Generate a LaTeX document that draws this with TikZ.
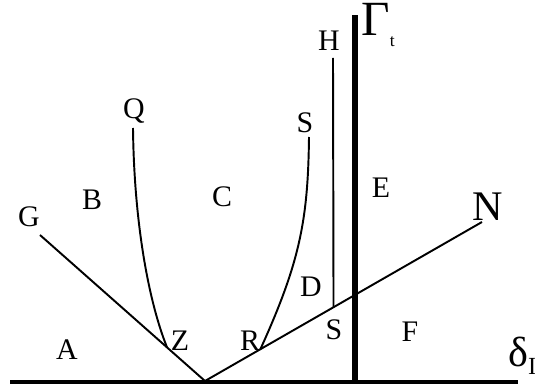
\documentclass[tikz,border=0pt]{standalone}
\usepackage{fontspec}
\setmainfont{Liberation Serif}
\usetikzlibrary{calc}
\tikzset{
  thin line/.style={line width=1.1pt,draw=black},
  bold line/.style={line width=2.6pt,draw=black},
  lbl/.style={font=\fontsize{17}{17}\selectfont,inner sep=0pt},
  big lbl/.style={font=\fontsize{24}{24}\selectfont,inner sep=0pt},
}
\begin{document}
\begin{tikzpicture}[x=0.02cm,y=-0.02cm]
  \useasboundingbox (0,0) rectangle (535,385);
  % main points
  \coordinate (o) at (205,381);
  \coordinate (g) at (40,235);
  \coordinate (n) at (482,222);
  \coordinate (bl) at (10,382);
  \coordinate (br) at (518,382);
  \coordinate (gtop) at (355,15);
  \coordinate (gbot) at (355,382);
  \coordinate (z) at ($(g)!0.77!(o)$);
  \coordinate (r) at ($(o)!0.2!(n)$);
  \coordinate (hfoot) at ($(o)!0.464!(n)$);
  \coordinate (htop) at (333,58);
  \coordinate (qtop) at (133,128);
  \coordinate (stop) at (309,137);
  % lines
  \draw[bold line] (bl) -- (br);
  \draw[bold line,line width=2.9pt] (gbot) -- (gtop);
  \draw[thin line] (g) -- (o) -- (n);
  \draw[thin line] (hfoot) -- (htop);
  \draw[thin line] (qtop) .. controls (134,220) and (148,300) .. (z);
  \draw[thin line] (stop) .. controls (308,220) and (300,262) .. (r);
  % labels
  \foreach \nm/\x/\y/\t in {A/67/350/A,B/92/200/B,C/222/197/C,D/311/287/D,
    E/381/188/E,F/410/332/F,G/29/217/G,H/329/41/H,Q/134/111/Q,
    Stop/305/123/S,Slow/334/330/S,R/250/341/R,Z/180/341/Z}{
    \node[lbl] (l\nm) at (\x,\y) {\t};
  }
  \node[big lbl] (lN) at (488,207) {N};
  \node[inner sep=0pt,anchor=base west,font=\fontsize{28}{28}\selectfont] (lGamma) at (361,36)
    {Γ\raisebox{-6pt}{\fontsize{10}{10}\selectfont t}};
  \node[inner sep=0pt,anchor=base west,font=\fontsize{24}{24}\selectfont] (ldelta) at (508,367)
    {δ\raisebox{-4pt}{\fontsize{14}{14}\selectfont I}};
\end{tikzpicture}
\end{document}
